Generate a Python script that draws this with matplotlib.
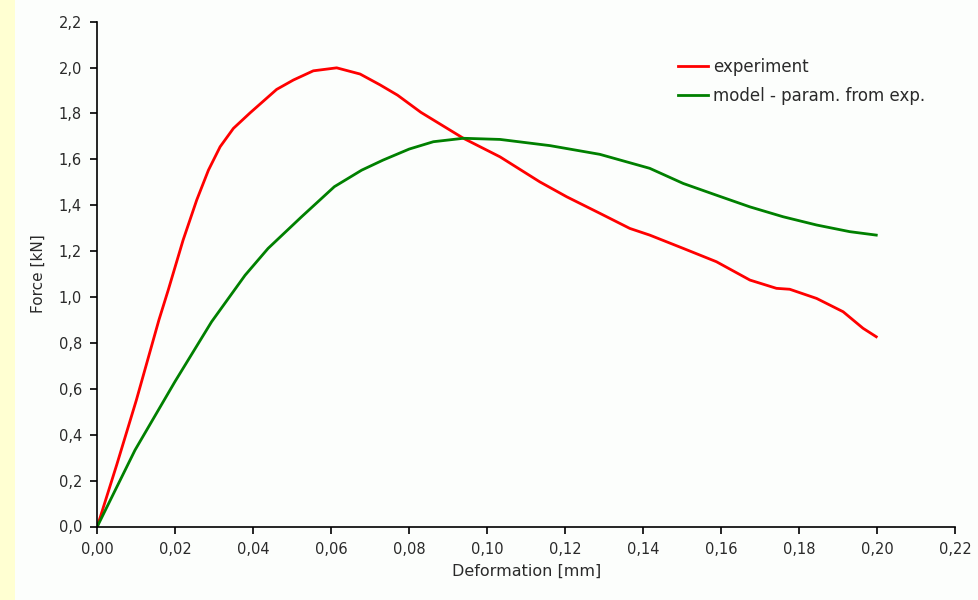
"""
Force vs deformation: experiment and model comparison
"""

import matplotlib
matplotlib.use('Agg')
import matplotlib.pyplot as plt
import matplotlib.ticker as mticker
from matplotlib.patches import Rectangle

#---------------------------------------------------------------------------------------------------
# Data
#---------------------------------------------------------------------------------------------------

exp_def = [0.0, 0.005, 0.0100, 0.0158, 0.0182, 0.0220, 0.0255, 0.0285, 0.0315, 0.0349, 0.0392,
           0.0460, 0.0503, 0.0554, 0.0614, 0.0674, 0.0725, 0.0770, 0.0830, 0.0939, 0.1033,
           0.1135, 0.1204, 0.1289, 0.1366, 0.1417, 0.1503, 0.1588, 0.1674, 0.1742, 0.1776,
           0.1845, 0.1913, 0.1964, 0.1998]
exp_force = [0.0, 0.27, 0.55, 0.90, 1.031, 1.248, 1.423, 1.553, 1.655, 1.735, 1.803,
             1.905, 1.946, 1.986, 1.999, 1.972, 1.925, 1.880, 1.805, 1.692, 1.611,
             1.502, 1.437, 1.365, 1.299, 1.270, 1.212, 1.154, 1.074, 1.038, 1.034,
             0.994, 0.936, 0.864, 0.827]

mod_def = [0.0, 0.00967, 0.0199, 0.0293, 0.0379, 0.0438, 0.0524, 0.0608, 0.0678, 0.0733,
           0.0800, 0.0862, 0.0939, 0.1033, 0.1161, 0.1289, 0.1417, 0.1503, 0.1588, 0.1674,
           0.1759, 0.1845, 0.1930, 0.1998]
mod_force = [0.0, 0.333, 0.631, 0.892, 1.095, 1.212, 1.350, 1.481, 1.553, 1.597,
             1.645, 1.677, 1.692, 1.687, 1.660, 1.622, 1.561, 1.495, 1.444, 1.393,
             1.350, 1.314, 1.285, 1.270]

#---------------------------------------------------------------------------------------------------
# Plot
#---------------------------------------------------------------------------------------------------

plt.rcParams['font.family'] = ['DejaVu Sans']

fig = plt.figure(figsize=(9.79, 6.0), dpi=100)
fig.patch.set_facecolor('#FCFEFC')
fig.patches.append(Rectangle((0, 0), 15 / 979, 1, transform=fig.transFigure,
                             facecolor='#FFFFD2', edgecolor='none', zorder=0))

ax = fig.add_axes([0.0994, 0.1225, 0.8761, 0.8413])
ax.set_facecolor('none')

ax.plot(exp_def, exp_force, color='#FF0000', lw=2, label='experiment')
ax.plot(mod_def, mod_force, color='#008000', lw=2, label='model - param. from exp.')

ax.set_xlim(0, 0.22)
ax.set_ylim(0, 2.2)
ax.xaxis.set_major_locator(mticker.MultipleLocator(0.02))
ax.yaxis.set_major_locator(mticker.MultipleLocator(0.2))
ax.xaxis.set_major_formatter(mticker.FuncFormatter(lambda v, p: ('%.2f' % v).replace('.', ',')))
ax.yaxis.set_major_formatter(mticker.FuncFormatter(lambda v, p: ('%.1f' % v).replace('.', ',')))

for s in ['top', 'right']:
    ax.spines[s].set_visible(False)
for s in ['left', 'bottom']:
    ax.spines[s].set_linewidth(1.2)
ax.tick_params(direction='out', length=5, width=1.2, labelsize=10.5, colors='black',
               labelcolor='#2a2a2a', pad=6)

ax.set_xlabel('Deformation [mm]', size=11.5, color='#2a2a2a', labelpad=5)
ax.set_ylabel('Force [kN]', size=11, color='#2a2a2a', labelpad=9)

ax.legend(loc='upper left', bbox_to_anchor=(0.677, 0.929), frameon=False, fontsize=12,
          handlelength=1.8, handletextpad=0.3, labelspacing=0.68, borderaxespad=0,
          borderpad=0, labelcolor='#2a2a2a')

plt.savefig('out.png', dpi=100, facecolor=fig.get_facecolor())
